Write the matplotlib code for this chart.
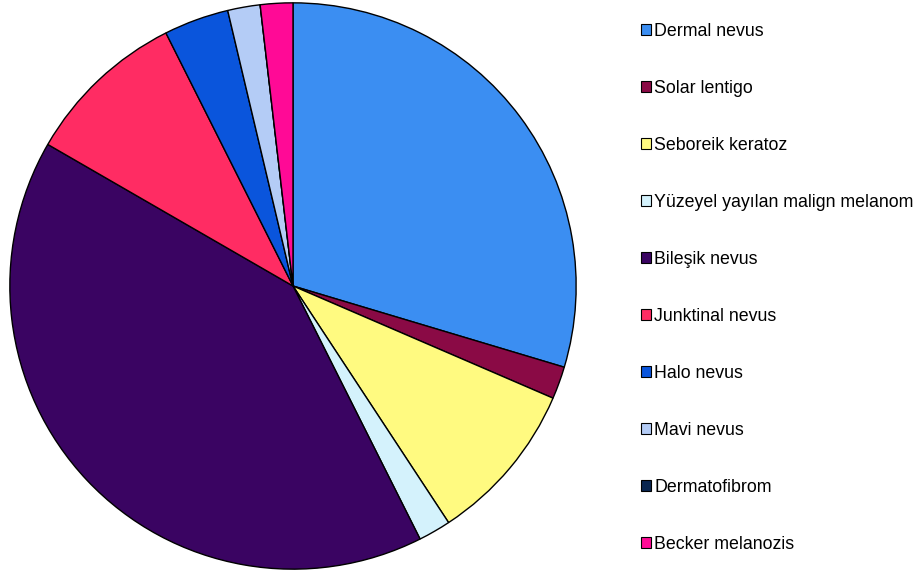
import matplotlib.pyplot as plt

plt.rcParams['font.family'] = ['Liberation Sans', 'DejaVu Sans']

labels = ['Dermal nevus', 'Solar lentigo', 'Seboreik keratoz',
          'Yüzeyel yayılan malign melanom', 'Bileşik nevus', 'Junktinal nevus',
          'Halo nevus', 'Mavi nevus', 'Dermatofibrom', 'Becker melanozis']
counts = [16, 1, 5, 1, 22, 5, 2, 1, 0, 1]
colors = ['#3b8ef2', '#8a0a45', '#fffa80', '#d4f2fc', '#3a0462',
          '#ff2c63', '#0a55dc', '#b4ccf6', '#0a2650', '#ff0a96']

fig = plt.figure(figsize=(9.21, 5.78), dpi=100)
W, H = 921, 578
cx, cy, r = 293, 286, 284
ax = fig.add_axes([(cx - r) / W, (H - cy - r) / H, 2 * r / W, 2 * r / H])

wedges, _ = ax.pie(counts, colors=colors, startangle=90, counterclock=False,
                   radius=1, wedgeprops=dict(edgecolor='black', linewidth=1))
ax.set_xlim(-1.003, 1.003)
ax.set_ylim(-1.003, 1.003)
ax.set_aspect('equal')
ax.axis('off')

leg = fig.legend(wedges, labels, loc='upper left', bbox_to_anchor=(634 / W, 1 - 16 / H),
                 frameon=False, fontsize=12.8, handlelength=0.55, handleheight=0.55,
                 handletextpad=0.2, labelspacing=2.25, borderaxespad=0)
for h in leg.legend_handles:
    h.set_linewidth(0.8)

fig.savefig('out.png', dpi=100)
